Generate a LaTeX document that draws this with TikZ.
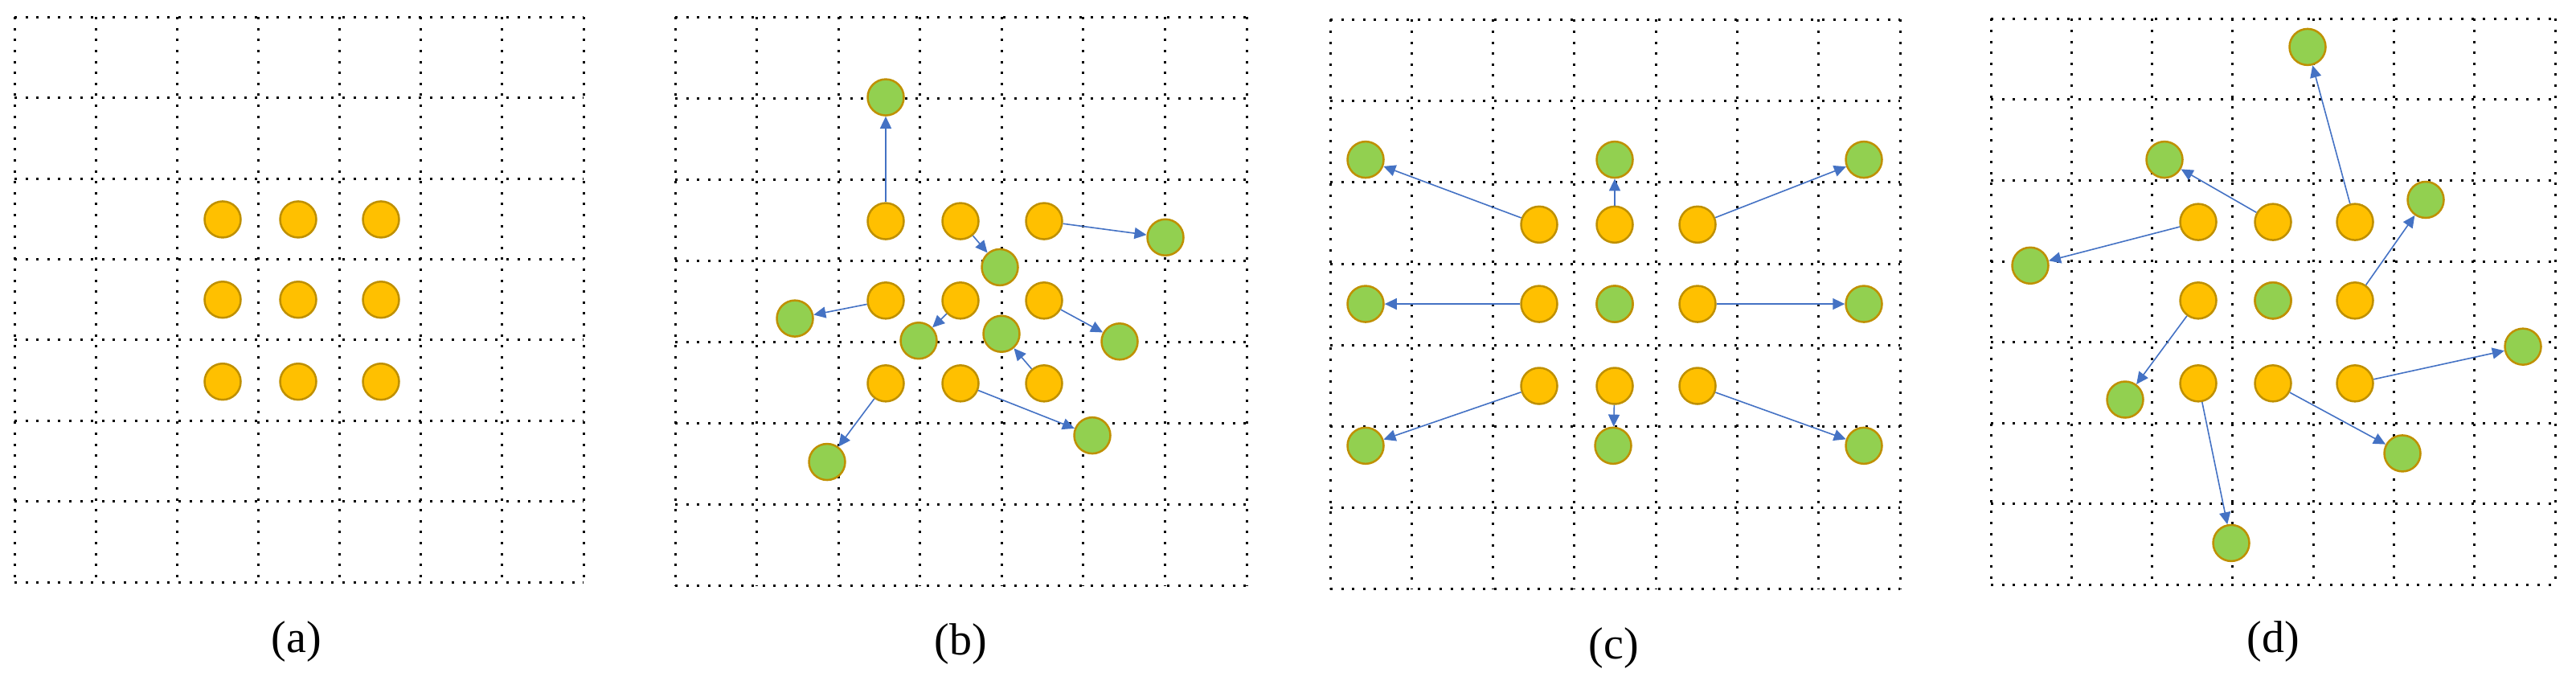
\documentclass[tikz,border=0pt]{standalone}
\usepackage{fontspec}
\setmainfont{Liberation Serif}
\usetikzlibrary{arrows.meta}
\definecolor{orfill}{HTML}{FFC000}
\definecolor{grfill}{HTML}{92D050}
\definecolor{ring}{HTML}{BF9000}
\definecolor{arr}{HTML}{4472C4}
\tikzset{
  orb/.style={circle,draw=ring,fill=orfill,line width=2.5pt,minimum size=45pt,inner sep=0pt},
  grb/.style={circle,draw=ring,fill=grfill,line width=2.5pt,minimum size=45pt,inner sep=0pt},
  mv/.style={draw=arr,line width=1.6pt,-{Triangle[length=15pt,width=14pt]}},
  gridline/.style={line width=3pt,dash pattern=on 3pt off 10.6pt},
  captxt/.style={font=\fontsize{56}{64}\selectfont}
}
\newcommand{\dotgrid}[4]{%
  \foreach \i in {0,...,7}{
    \draw[gridline] ({#1+\i*(#3-#1)/7},#2) -- ({#1+\i*(#3-#1)/7},#4);
    \draw[gridline] (#1,{#2+\i*(#4-#2)/7}) -- (#3,{#2+\i*(#4-#2)/7});
  }}
\begin{document}
\begin{tikzpicture}[x=1pt,y=-1.062pt]
\path[use as bounding box] (0,0) rectangle (3205,802.26);
% (a)
\dotgrid{18}{20}{726}{682}
\foreach \x/\c in {277/1,371/2,474/3}{
  \foreach \y/\r in {257/1,351/2,447/3}{
    \node[orb] (a\r\c) at (\x,\y) {};}}
\node[captxt] (la) at (369,751) {(a)};
% (b)
\dotgrid{840}{20}{1551}{686}
\foreach \x/\c in {1102/1,1195/2,1299/3}{
  \foreach \y/\r in {259/1,352/2,449/3}{
    \node[orb] (b\r\c) at (\x,\y) {};}}
\node[grb] (bg11) at (1102,114) {};
\node[grb] (bg12) at (1244,313) {};
\node[grb] (bg13) at (1450,278) {};
\node[grb] (bg21) at (989,373) {};
\node[grb] (bg22) at (1143,399) {};
\node[grb] (bg23) at (1393,400) {};
\node[grb] (bg31) at (1029,541) {};
\node[grb] (bg32) at (1359,510) {};
\node[grb] (bg33) at (1246,391) {};
\foreach \k in {11,12,13,21,22,23,31,32,33}{\draw[mv] (b\k) -- (bg\k);}
\node[captxt] (lb) at (1195,754) {(b)};
% (c)
\dotgrid{1655}{23}{2364}{690}
\foreach \x/\c in {1915/1,2009/2,2112/3}{
  \foreach \y/\r in {263/1,356/2,452/3}{
    \node[orb] (c\r\c) at (\x,\y) {};}}
\node[grb] (cmid) at (2009,356) {};
\node[grb] (cg11) at (1699,187) {};
\node[grb] (cg12) at (2009,187) {};
\node[grb] (cg13) at (2319,187) {};
\node[grb] (cg21) at (1699,356) {};
\node[grb] (cg23) at (2319,356) {};
\node[grb] (cg31) at (1699,522) {};
\node[grb] (cg32) at (2007,522) {};
\node[grb] (cg33) at (2319,522) {};
\foreach \k in {11,12,13,21,23,31,32,33}{\draw[mv] (c\k) -- (cg\k);}
\node[captxt] (lc) at (2008,759) {(c)};
% (d)
\dotgrid{2477}{22}{3179}{685}
\foreach \x/\c in {2735/1,2828/2,2930/3}{
  \foreach \y/\r in {260/1,352/2,449/3}{
    \node[orb] (d\r\c) at (\x,\y) {};}}
\node[grb] (dmid) at (2828,352) {};
\node[grb] (dg11) at (2526,311) {};
\node[grb] (dg12) at (2693,187) {};
\node[grb] (dg13) at (2871,55) {};
\node[grb] (dg21) at (2644,468) {};
\node[grb] (dg23) at (3018,234) {};
\node[grb] (dg31) at (2776,636) {};
\node[grb] (dg32) at (2989,531) {};
\node[grb] (dg33) at (3139,406) {};
\foreach \k in {11,12,13,21,23,31,32,33}{\draw[mv] (d\k) -- (dg\k);}
\node[captxt] (ld) at (2828,751) {(d)};
\end{tikzpicture}
\end{document}
